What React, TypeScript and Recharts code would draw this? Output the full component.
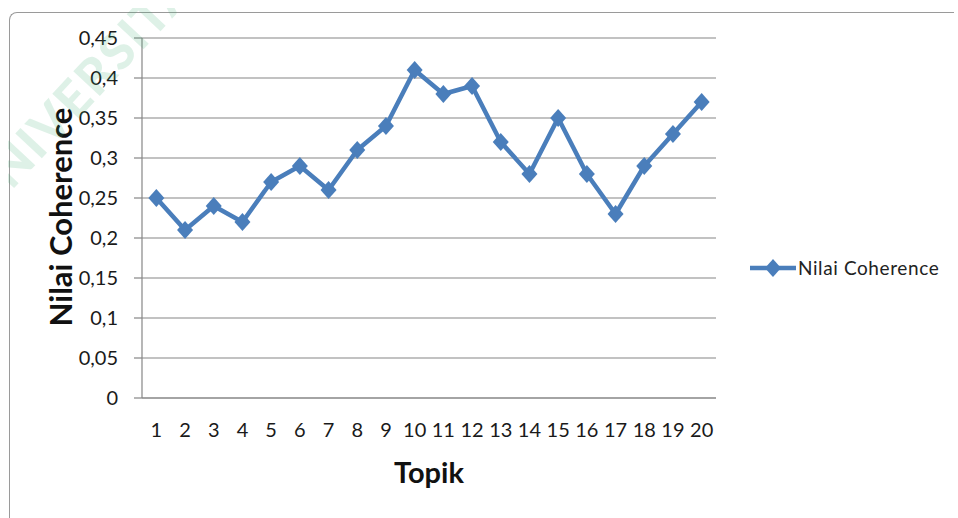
import React from 'react';
import { LineChart, Line, XAxis, YAxis, CartesianGrid, Legend, Label } from 'recharts';

const topics = [1, 2, 3, 4, 5, 6, 7, 8, 9, 10, 11, 12, 13, 14, 15, 16, 17, 18, 19, 20];
const coherence = [
  0.25, 0.21, 0.24, 0.22, 0.27, 0.29, 0.26, 0.31, 0.34, 0.41,
  0.38, 0.39, 0.32, 0.28, 0.35, 0.28, 0.23, 0.29, 0.33, 0.37,
];
const yTicks = [0, 0.05, 0.1, 0.15, 0.2, 0.25, 0.3, 0.35, 0.4, 0.45];
const seriesName = 'Nilai Coherence';
const xTitle = 'Topik';
const yTitle = 'Nilai Coherence';
const watermark = 'UNIVERSITAS';

const data = topics.map((t, i) => ({ topik: t, nilai: coherence[i] }));
// tick marks sit between categories, like Excel
const boundaries = [0, ...topics].map((t) => t + 0.5);

const BLUE = '#4A7EBB';
const GRID = '#868686';
const FONT = 'Lato, "Noto Sans", sans-serif';

const fmt = (v: number) => String(Number(v.toFixed(2))).replace('.', ',');

const Diamond = (props: any) => {
  const { cx, cy, index } = props;
  if (cx == null || cy == null) return null;
  return (
    <polygon
      key={`dot-${index}`}
      points={`${cx},${cy - 9} ${cx + 8},${cy} ${cx},${cy + 9} ${cx - 8},${cy}`}
      fill={BLUE}
    />
  );
};

const LegendBox = () => (
  <div style={{ display: 'flex', alignItems: 'center', fontFamily: FONT, fontSize: 19, color: '#222' }}>
    <svg width={48} height={20}>
      <line x1={1} y1={10} x2={47} y2={10} stroke={BLUE} strokeWidth={4.5} />
      <polygon points="24,1 32,10 24,19 16,10" fill={BLUE} />
    </svg>
    <span style={{ marginLeft: 1, letterSpacing: 0.6 }}>{seriesName}</span>
  </div>
);

export default function App() {
  return (
    <div
      style={{
        position: 'fixed',
        left: 8,
        top: 8,
        width: 950,
        height: 510,
        overflow: 'hidden',
        background: '#fff',
      }}
    >
      <div
        style={{
          position: 'absolute',
          left: 1,
          top: 4,
          width: 944,
          height: 600,
          borderTop: '1px solid #9a9a9a',
          borderLeft: '1px solid #9a9a9a',
          borderTopLeftRadius: 8,
        }}
      />
      <LineChart
        width={950}
        height={510}
        data={data}
        margin={{ top: 30, right: 242, bottom: 19, left: 34 }}
        style={{ position: 'absolute', left: 0, top: 0 }}
      >
        <CartesianGrid vertical={false} stroke={GRID} strokeWidth={1.2} />
        <XAxis
          xAxisId="axisTicks"
          dataKey="topik"
          type="number"
          domain={[0.5, 20.5]}
          ticks={boundaries}
          tick={false}
          tickSize={8}
          height={1}
          stroke={GRID}
          tickLine={{ stroke: GRID, strokeWidth: 1.2 }}
          axisLine={{ stroke: GRID, strokeWidth: 1.2 }}
        />
        <XAxis
          xAxisId="topicAxis"
          dataKey="topik"
          type="number"
          domain={[0.5, 20.5]}
          ticks={topics}
          interval={0}
          height={100}
          axisLine={false}
          tickLine={false}
          tickSize={0}
          tickMargin={24}
          tick={{ fontFamily: FONT, fontSize: 20, fill: '#1a1a1a' }}
        >
          <Label
            content={(p: any) => {
              const vb = p.viewBox;
              return (
                <text
                  x={vb.x + vb.width / 2}
                  y={475}
                  textAnchor="middle"
                  fontFamily={FONT}
                  fontWeight="bold"
                  fontSize={29}
                  fill="#111"
                >
                  {xTitle}
                </text>
              );
            }}
          />
        </XAxis>
        <YAxis
          domain={[0, 0.45]}
          ticks={yTicks}
          width={100}
          interval={0}
          tickFormatter={fmt}
          tickSize={8}
          tickMargin={16}
          stroke={GRID}
          tickLine={{ stroke: GRID, strokeWidth: 1.2 }}
          axisLine={{ stroke: GRID, strokeWidth: 1.2 }}
          tick={{ fontFamily: FONT, fontSize: 20, fill: '#1a1a1a' }}
        >
          <Label
            content={(p: any) => {
              const vb = p.viewBox;
              const cx = vb.x + 18;
              const cy = vb.y + vb.height / 2 - 1;
              return (
                <text
                  transform={`translate(${cx}, ${cy}) rotate(-90)`}
                  textAnchor="middle"
                  dominantBaseline="central"
                  fontFamily={FONT}
                  fontWeight="bold"
                  fontSize={31}
                  fill="#111"
                >
                  {yTitle}
                </text>
              );
            }}
          />
        </YAxis>
        <Legend
          layout="vertical"
          align="center"
          verticalAlign="middle"
          content={() => <LegendBox />}
          wrapperStyle={{ left: 741, top: 248, width: 200 }}
        />
        <Line
          xAxisId="topicAxis"
          dataKey="nilai"
          name={seriesName}
          stroke={BLUE}
          strokeWidth={4.5}
          strokeLinejoin="round"
          dot={Diamond}
          activeDot={false}
          isAnimationActive={false}
        />
      </LineChart>
      <div
        style={{
          position: 'absolute',
          left: -59,
          top: 178,
          transform: 'rotate(-47deg)',
          transformOrigin: '0 0',
          fontFamily: 'Lato, sans-serif',
          fontWeight: 900,
          fontSize: 50,
          letterSpacing: 2,
          color: 'rgba(60, 170, 110, 0.17)',
          whiteSpace: 'nowrap',
          pointerEvents: 'none',
        }}
      >
        {watermark}
      </div>
    </div>
  );
}
